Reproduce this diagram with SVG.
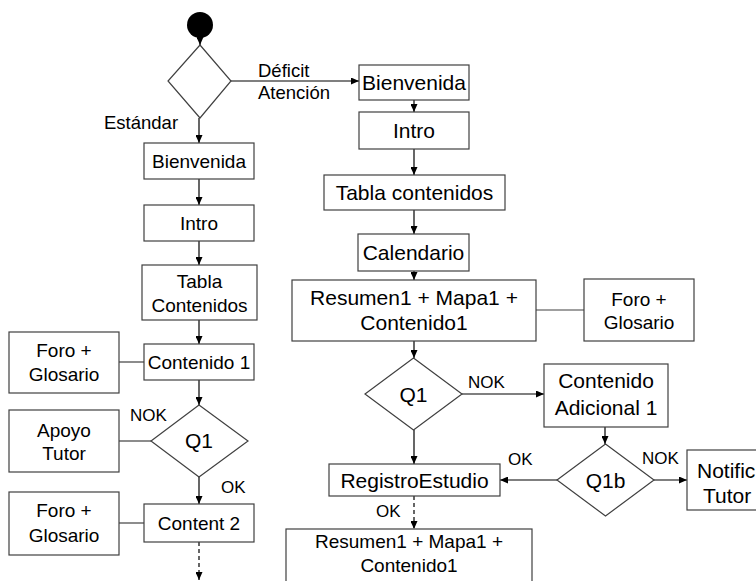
<svg xmlns="http://www.w3.org/2000/svg" width="756" height="581" viewBox="0 0 756 581">
<style>
.box{fill:#fff;stroke:#404040;stroke-width:1.2}
.dia{fill:#fff;stroke:#404040;stroke-width:1.2}
.ln{fill:none;stroke:#000;stroke-width:1.2}
.plain{fill:none;stroke:#404040;stroke-width:1.2}
.dash{stroke-dasharray:4 3}
text{font-family:"Liberation Sans",Arial,sans-serif;fill:#000}
.t19{font-size:19px;text-anchor:middle}
.t21{font-size:21px;text-anchor:middle}
.lbl{font-size:17px}
.lbl18{font-size:18.5px}
</style>
<defs>
<marker id="ah" markerUnits="userSpaceOnUse" markerWidth="8" markerHeight="7" refX="8" refY="3.5" orient="auto">
<path d="M0,0 L8,3.5 L0,7 z" fill="#000"/>
</marker>
</defs>
<rect width="756" height="581" fill="#fff"/>

<g id="connectors">
<line class="ln" x1="200" y1="38" x2="200" y2="45" marker-end="url(#ah)"/>
<line class="ln" x1="231" y1="81" x2="359" y2="81" marker-end="url(#ah)"/>
<line class="ln" x1="199" y1="118" x2="199" y2="143" marker-end="url(#ah)"/>
<line class="ln" x1="199" y1="179" x2="199" y2="205" marker-end="url(#ah)"/>
<line class="ln" x1="199" y1="241" x2="199" y2="265" marker-end="url(#ah)"/>
<line class="ln" x1="199" y1="320" x2="199" y2="344" marker-end="url(#ah)"/>
<line class="plain" x1="119" y1="362" x2="144" y2="362"/>
<line class="ln" x1="199" y1="380" x2="199" y2="405" marker-end="url(#ah)"/>
<line class="plain" x1="119" y1="441" x2="151" y2="441"/>
<line class="ln" x1="199" y1="477" x2="199" y2="504" marker-end="url(#ah)"/>
<line class="plain" x1="119" y1="523" x2="144" y2="523"/>
<line class="ln dash" x1="199" y1="542" x2="199" y2="580" marker-end="url(#ah)"/>

<line class="ln" x1="414" y1="100" x2="414" y2="112" marker-end="url(#ah)"/>
<line class="ln" x1="414" y1="149" x2="414" y2="175" marker-end="url(#ah)"/>
<line class="ln" x1="414" y1="210" x2="414" y2="234" marker-end="url(#ah)"/>
<line class="ln" x1="414" y1="271" x2="414" y2="280" marker-end="url(#ah)"/>
<line class="plain" x1="536" y1="310" x2="584" y2="310"/>
<line class="ln" x1="414" y1="341" x2="414" y2="358" marker-end="url(#ah)"/>
<line class="ln" x1="462" y1="394" x2="544" y2="394" marker-end="url(#ah)"/>
<line class="ln" x1="605" y1="427" x2="605" y2="444" marker-end="url(#ah)"/>
<line class="ln" x1="654" y1="480" x2="687" y2="480" marker-end="url(#ah)"/>
<line class="ln" x1="557" y1="480" x2="500" y2="480" marker-end="url(#ah)"/>
<line class="ln" x1="414" y1="430" x2="414" y2="464" marker-end="url(#ah)"/>
<line class="ln dash" x1="414" y1="496" x2="414" y2="529" marker-end="url(#ah)"/>

<text class="lbl18" x="258" y="77">Déficit</text>
<text class="lbl18" x="258" y="99">Atención</text>
<text class="lbl18" x="104" y="129">Estándar</text>
<text class="lbl" x="130" y="421">NOK</text>
<text class="lbl" x="221" y="493">OK</text>
<text class="lbl" x="468" y="388">NOK</text>
<text class="lbl" x="508" y="465">OK</text>
<text class="lbl" x="642" y="464">NOK</text>
<text class="lbl" x="376" y="517">OK</text>
</g>

<g id="start"><circle cx="200" cy="25" r="13" fill="#000"/></g>
<g id="d0"><polygon class="dia" points="200,45 231,81 200,118 168,81"/></g>

<g id="l-bienvenida"><rect class="box" x="144" y="143" width="110" height="36"/><text class="t19" x="199" y="168">Bienvenida</text></g>
<g id="l-intro"><rect class="box" x="144" y="205" width="110" height="36"/><text class="t19" x="199" y="230">Intro</text></g>
<g id="l-tabla"><rect class="box" x="142" y="265" width="115" height="55"/><text class="t19" x="199.5" y="288">Tabla</text><text class="t19" x="199.5" y="312">Contenidos</text></g>
<g id="l-contenido1"><rect class="box" x="144" y="344" width="110" height="36"/><text class="t19" x="199" y="369">Contenido 1</text></g>
<g id="l-foro1"><rect class="box" x="9" y="332" width="110" height="61"/><text class="t19" x="64" y="357">Foro +</text><text class="t19" x="64" y="381">Glosario</text></g>
<g id="l-q1"><polygon class="dia" points="199,405 248,441 199,477 151,441"/><text class="t21" x="199" y="448">Q1</text></g>
<g id="l-apoyo"><rect class="box" x="9" y="410" width="110" height="62"/><text class="t19" x="64" y="437">Apoyo</text><text class="t19" x="64" y="460">Tutor</text></g>
<g id="l-content2"><rect class="box" x="144" y="504" width="110" height="38"/><text class="t19" x="199" y="530">Content 2</text></g>
<g id="l-foro2"><rect class="box" x="9" y="492" width="110" height="63"/><text class="t19" x="64" y="517">Foro +</text><text class="t19" x="64" y="542">Glosario</text></g>

<g id="r-bienvenida"><rect class="box" x="359" y="65" width="110" height="35"/><text class="t21" x="414" y="90">Bienvenida</text></g>
<g id="r-intro"><rect class="box" x="359" y="112" width="110" height="37"/><text class="t21" x="414" y="138">Intro</text></g>
<g id="r-tabla"><rect class="box" x="324" y="175" width="181" height="35"/><text class="t21" x="414.5" y="200">Tabla contenidos</text></g>
<g id="r-calendario"><rect class="box" x="358" y="234" width="111" height="37"/><text class="t21" x="413.5" y="260">Calendario</text></g>
<g id="r-resumen"><rect class="box" x="292" y="280" width="244" height="61"/><text class="t21" x="414" y="305">Resumen1 + Mapa1 +</text><text class="t21" x="414" y="330">Contenido1</text></g>
<g id="r-foro"><rect class="box" x="584" y="279" width="110" height="62"/><text class="t19" x="639" y="306">Foro +</text><text class="t19" x="639" y="329">Glosario</text></g>
<g id="r-q1"><polygon class="dia" points="413.5,358 462,394 413.5,430 365,394"/><text class="t21" x="413.5" y="402">Q1</text></g>
<g id="r-adicional"><rect class="box" x="544" y="364" width="124" height="63"/><text class="t21" x="606" y="388">Contenido</text><text class="t21" x="606" y="415">Adicional 1</text></g>
<g id="r-q1b"><polygon class="dia" points="605.5,444 654,480 605.5,516 557,480"/><text class="t21" x="605.5" y="488">Q1b</text></g>
<g id="r-notific"><rect class="box" x="687" y="450" width="114" height="60"/><text font-size="21" x="697" y="478">Notific</text><text font-size="21" x="703" y="503">Tutor</text></g>
<g id="r-registro"><rect class="box" x="329" y="464" width="171" height="32"/><text class="t21" x="414.5" y="488">RegistroEstudio</text></g>
<g id="r-resumen2"><rect class="box" x="286" y="529" width="246" height="70"/><text class="t19" x="409" y="548">Resumen1 + Mapa1 +</text><text class="t19" x="409" y="572">Contenido1</text></g>
</svg>
